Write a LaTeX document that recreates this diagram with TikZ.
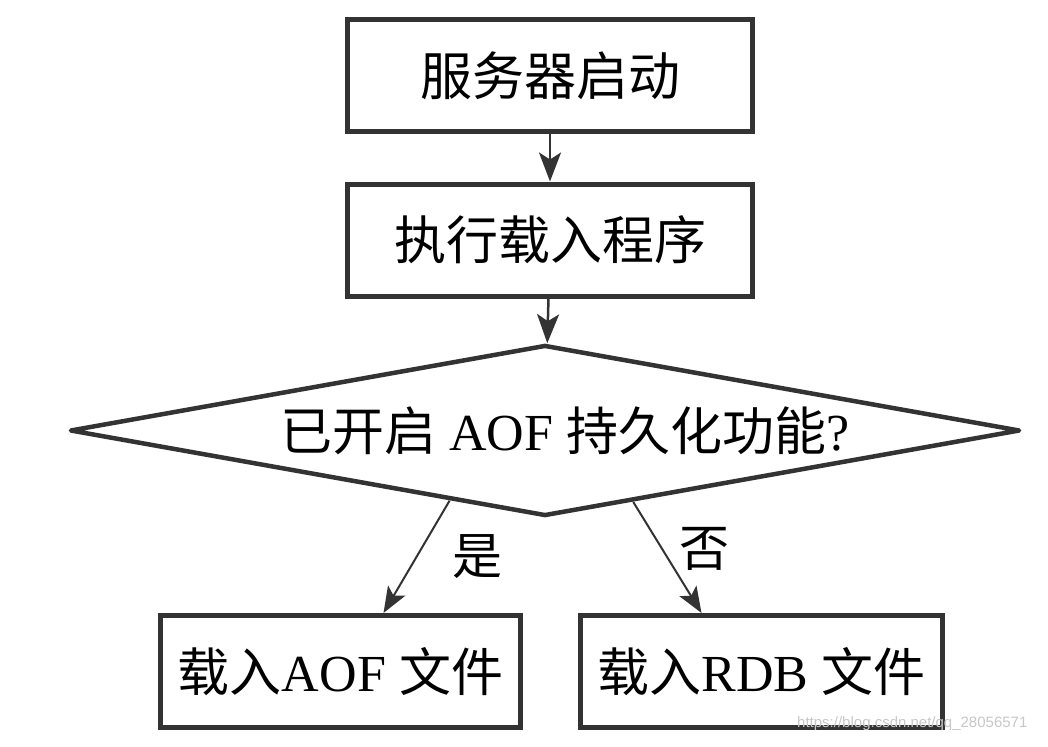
\documentclass[tikz,border=0pt]{standalone}
\usepackage{fontspec}
\setmainfont{Liberation Serif}
\newfontfamily\cjk{Noto Sans CJK SC}
\newfontfamily\urlfont{Liberation Sans}
\usetikzlibrary{arrows.meta,shapes.geometric,calc}
\newcommand{\zh}[1]{{\cjk #1}}

\begin{document}
\begin{tikzpicture}[x=1pt, y=-1pt,
    every node/.style={font=\fontsize{52}{60}\selectfont},
    stepbox/.style={draw=black!80, line width=5pt, minimum width=405pt, minimum height=112pt, inner sep=0pt},
    askbox/.style={diamond, draw=black!80, line width=4.5pt, line join=round, aspect=5.45, minimum width=950pt, minimum height=171pt, inner sep=0pt, font=\fontsize{52}{60}\selectfont},
    flow/.style={draw=black!80, line width=2.5pt, -{Stealth[length=29pt, width=22pt, inset=7pt]}},
    branch/.style={draw=black!80, line width=2pt, -{Stealth[length=26pt, width=20pt, inset=6pt]}},
    tag/.style={inner sep=0pt, font=\fontsize{50}{58}\selectfont}]
    \useasboundingbox (0,0) rectangle (1048,746);

    % top boxes
    \node[stepbox] (boot) at (550,76) {\zh{服务器启动}};
    \node[stepbox] (load) at (550,240) {\zh{执行载入程序}};

    % question
    \node[askbox] (ask) at (545,430.5) {\hspace*{40pt}\zh{已开启} AOF \zh{持久化功能}?};

    % results
    \node[stepbox, minimum width=360pt] (aof) at (340.5,671.5) {\zh{载入}AOF \zh{文件}};
    \node[stepbox, minimum width=362pt] (rdb) at (761.5,671.5) {\zh{载入}RDB \zh{文件}};

    % arrows
    \draw[flow] (boot) -- (load);
    \draw[flow] (load) -- (ask);
    \draw[branch] ($(ask.west)!0.8!(ask.south)$) -- ([xshift=43pt]aof.north) node[tag, midway, right=35pt]{\zh{是}};
    \draw[branch] ($(ask.south)!0.185!(ask.east)$) -- ([xshift=-60pt]rdb.north) node[tag, midway, right=11pt, yshift=9pt]{\zh{否}};

    % watermark
    \node[anchor=west, inner sep=0pt, text=black!22, font=\urlfont\fontsize{15}{18}\selectfont] (mark) at (797,724) {https://blog.csdn.net/qq\_28056571};
\end{tikzpicture}
\end{document}
